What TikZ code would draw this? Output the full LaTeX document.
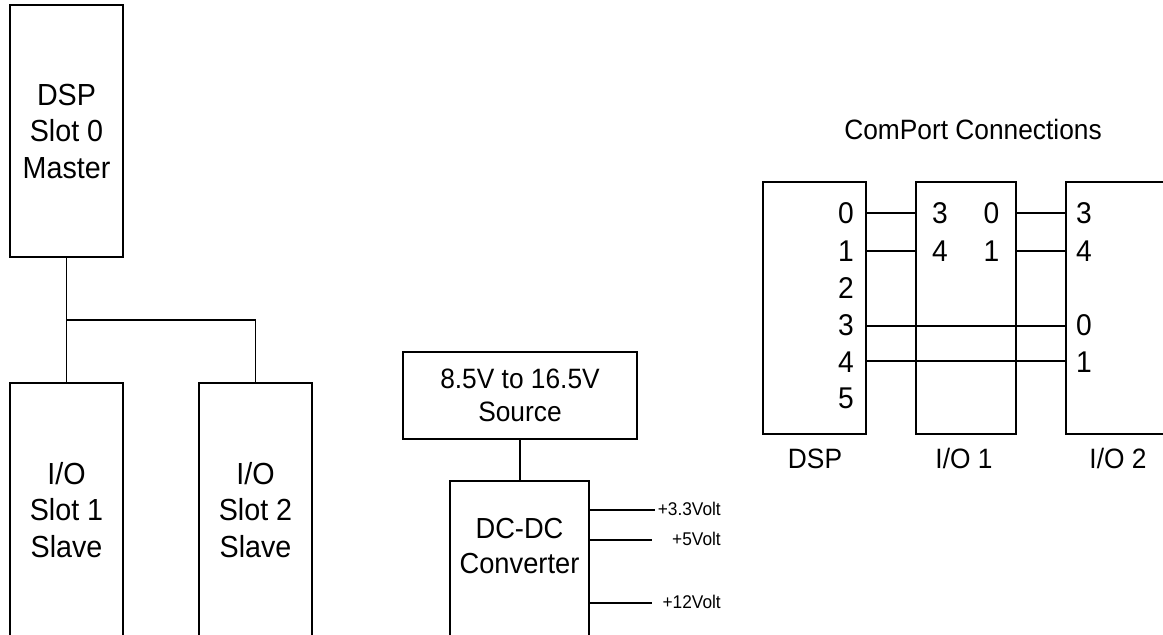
\documentclass[tikz,border=0pt]{standalone}
\usepackage{fontspec}
\setmainfont[FakeStretch=0.94]{Liberation Sans}
\begin{document}
\begin{tikzpicture}[x=1pt,y=-1pt,
  box/.style={draw, line width=1.1pt, inner sep=0pt, align=center},
  bigtxt/.style={font=\fontsize{30.5}{36.5}\selectfont},
  srctxt/.style={font=\fontsize{28}{33}\selectfont, align=center},
  dctxt/.style={font=\fontsize{29}{35}\selectfont, align=center},
  digit/.style={font=\fontsize{30}{34}\selectfont, inner sep=0pt},
  lbl/.style={font=\fontsize{28}{32}\selectfont, inner sep=0pt},
  volt/.style={font=\fontsize{18.4}{21}\selectfont, inner sep=0pt},
  wire/.style={line width=1.1pt}]
\useasboundingbox (0,0) rectangle (1163,635);
\clip (0,0) rectangle (1163,635);
\fill[white] (0,0) rectangle (1163,635);

% left: slots
\node[box, bigtxt, minimum width=113pt, minimum height=252pt] (dsp) at (66.5,131) {DSP\\Slot 0\\Master};
\node[box, bigtxt, minimum width=113pt, minimum height=254pt] (io1) at (66.5,510) {I/O\\Slot 1\\Slave};
\node[box, bigtxt, minimum width=113pt, minimum height=254pt] (io2) at (255.5,510) {I/O\\Slot 2\\Slave};
\coordinate (j) at (66.5,320);
\draw[wire] (dsp.south) -- (io1.north);
\draw[wire] (j) -| (io2.north);

% centre: power
\node[box, srctxt, minimum width=234pt, minimum height=87pt] (src) at (520,395.5) {8.5V to 16.5V\\Source};
\node[box, minimum width=139pt, minimum height=156pt] (dc) at (519.5,559) {};
\node[dctxt, inner sep=0pt] (dct) at (519.5,546) {DC-DC\\Converter};
\draw[wire] (src.south) -- (src.south |- dc.north);
\coordinate (v1) at (655,510);
\coordinate (v2) at (652,540);
\coordinate (v3) at (652,603);
\draw[wire] (dc.east |- v1) -- (v1);
\draw[wire] (dc.east |- v2) -- (v2);
\draw[wire] (dc.east |- v3) -- (v3);
\node[volt, anchor=base east] (l1) at (721,515) {+3.3Volt};
\node[volt, anchor=base east] (l2) at (721,545) {+5Volt};
\node[volt, anchor=base east] (l3) at (721,608) {+12Volt};

% right: comports
\node[lbl, anchor=base] (title) at (973,139) {ComPort Connections};
\node[box, minimum width=103pt, minimum height=252pt] (cdsp) at (814.5,308) {};
\node[box, minimum width=100pt, minimum height=252pt] (cio1) at (966,308) {};
\node[box, minimum width=104pt, minimum height=252pt] (cio2) at (1118,308) {};
\node[lbl, anchor=base] (ldsp) at (815,468) {DSP};
\node[lbl, anchor=base] (lio1) at (964,468) {I/O 1};
\node[lbl, anchor=base] (lio2) at (1118,468) {I/O 2};

\foreach \d/\b in {0/223,1/261,2/298,3/335,4/372,5/408}
  \node[digit, anchor=base east] (dd\d) at (854,\b) {\d};
\node[digit, anchor=base] (a3) at (940,223) {3};
\node[digit, anchor=base] (a4) at (940,261) {4};
\node[digit, anchor=base] (a0) at (991.5,223) {0};
\node[digit, anchor=base] (a1) at (991.5,261) {1};
\node[digit, anchor=base west] (b3) at (1076,223) {3};
\node[digit, anchor=base west] (b4) at (1076,261) {4};
\node[digit, anchor=base west] (b0) at (1076,335) {0};
\node[digit, anchor=base west] (b1) at (1076,372) {1};

\coordinate (r0) at (0,213);
\coordinate (r1) at (0,251);
\coordinate (r3) at (0,326);
\coordinate (r4) at (0,361);
\draw[wire] (cdsp.east |- r0) -- (cio1.west |- r0);
\draw[wire] (cdsp.east |- r1) -- (cio1.west |- r1);
\draw[wire] (cio1.east |- r0) -- (cio2.west |- r0);
\draw[wire] (cio1.east |- r1) -- (cio2.west |- r1);
\draw[wire] (cdsp.east |- r3) -- (cio2.west |- r3);
\draw[wire] (cdsp.east |- r4) -- (cio2.west |- r4);
\end{tikzpicture}
\end{document}
